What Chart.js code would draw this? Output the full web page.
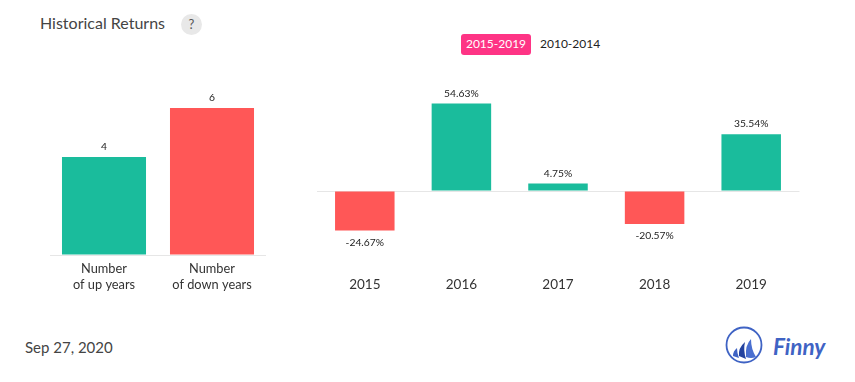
<!DOCTYPE html>
<html>
<head>
<meta charset="utf-8">
<title>Historical Returns</title>
<script src="https://cdn.jsdelivr.net/npm/chart.js@4/dist/chart.umd.min.js"></script>
<style>
html, body { margin: 0; padding: 0; background: #fff; font-family: Lato, sans-serif; overflow: hidden; }
body { width: 855px; height: 382px; position: relative; }
.abs { position: absolute; white-space: nowrap; }
#titulo { left: 40px; top: 13px; font-size: 16px; line-height: 20px; color: #444; }
#ajuda { left: 181px; top: 14px; width: 21px; height: 21px; border-radius: 50%; background: #e8e8e8; color: #555; font-size: 13px; line-height: 21px; text-align: center; }
#periodoAtivo { left: 461px; top: 34px; width: 70px; height: 21px; border-radius: 3px; background: #fe3485; color: #fff; font-size: 12px; line-height: 20px; text-align: center; }
#periodoOutro { left: 540px; top: 34px; font-size: 12px; line-height: 20px; color: #222; }
#data { left: 25px; top: 337px; font-size: 15px; line-height: 20px; color: #444; }
#marca { left: 773px; top: 331px; font-family: Lato, sans-serif; font-style: italic; font-weight: bold; font-size: 22.5px; line-height: 32px; color: #3f63c4; }
#logo { left: 725px; top: 326px; }
#wrapAnos { left: 30px; top: 60px; width: 260px; height: 240px; }
#wrapRetornos { left: 300px; top: 60px; width: 520px; height: 241px; }
</style>
</head>
<body>
<div class="abs" id="titulo">Historical Returns</div>
<div class="abs" id="ajuda">?</div>
<div class="abs" id="periodoAtivo">2015-2019</div>
<div class="abs" id="periodoOutro">2010-2014</div>
<div class="abs" id="wrapAnos"><canvas id="chartAnos" width="260" height="240"></canvas></div>
<div class="abs" id="wrapRetornos"><canvas id="chartRetornos" width="520" height="241"></canvas></div>
<div class="abs" id="data">Sep 27, 2020</div>
<svg class="abs" id="logo" width="38" height="38" viewBox="0 0 38 38">
  <circle cx="19" cy="19" r="17.5" fill="none" stroke="#3f63c4" stroke-width="1.8"/>
  <path d="M8 30 Q8 25 12 22 Q12 27 14 32 Z" fill="#3f63c4"/>
  <path d="M14 30 Q13 22 20 16 Q18 24 21 33 Z" fill="#23429f"/>
  <path d="M21 31 Q20 19 26 13 Q26 23 31 31 Q26 33 21 31 Z" fill="#4a6fd0"/>
</svg>
<div class="abs" id="marca">Finny</div>

<script>
var categoriasAnos = [["Number", "of up years"], ["Number", "of down years"]];
var valoresAnos = [4, 6];
var coresAnos = ["#1abc9c", "#ff5757"];

var categoriasRetornos = ["2015", "2016", "2017", "2018", "2019"];
var valoresRetornos = [-24.67, 54.63, 4.75, -20.57, 35.54];

var verde = "#1abc9c";
var vermelho = "#ff5757";
var corEixo = "#e6e6e6";

// escreve o valor acima (ou abaixo) de cada barra
function pluginRotulos(sufixo) {
    return {
        id: "rotulos",
        afterDatasetsDraw: function (chart) {
            var ctx = chart.ctx;
            var dados = chart.data.datasets[0].data;
            var barras = chart.getDatasetMeta(0).data;
            ctx.save();
            ctx.font = "10.3px Lato";
            ctx.fillStyle = "#222";
            ctx.textAlign = "center";
            for (let i = 0; i < barras.length; i++) {
                if (dados[i] < 0) {
                    ctx.textBaseline = "top";
                    ctx.fillText(dados[i] + sufixo, barras[i].x, barras[i].y + 7);
                } else {
                    ctx.textBaseline = "bottom";
                    ctx.fillText(dados[i] + sufixo, barras[i].x, barras[i].y - 5);
                }
            }
            ctx.restore();
        }
    };
}

function plotarGrafico(id, labels, valores, cores, opcoes) {
    var ctx = document.getElementById(id);

    return new Chart(ctx, {
        type: "bar",
        data: {
            labels: labels,
            datasets: [{
                data: valores,
                backgroundColor: cores,
                categoryPercentage: 1,
                barPercentage: opcoes.larguraBarra
            }]
        },
        options: {
            responsive: false,
            animation: false,
            layout: { padding: opcoes.padding },
            plugins: { legend: { display: false }, tooltip: { enabled: false } },
            scales: {
                x: {
                    grid: { display: false },
                    border: { display: false },
                    afterFit: function (escala) { escala.height = opcoes.alturaEixo; },
                    ticks: {
                        color: "#333",
                        padding: opcoes.paddingTicks,
                        maxRotation: 0,
                        autoSkip: false,
                        font: { family: "Lato", size: opcoes.fonteTicks, lineHeight: 1.22 }
                    }
                },
                y: {
                    min: opcoes.min,
                    max: opcoes.max,
                    afterFit: function (escala) { escala.width = 0; },
                    border: { display: false },
                    ticks: { display: false, stepSize: opcoes.passo },
                    grid: {
                        drawTicks: false,
                        color: function (c) { return c.tick.value === 0 ? corEixo : "transparent"; }
                    }
                }
            }
        },
        plugins: [pluginRotulos(opcoes.sufixo)]
    });
}

plotarGrafico("chartAnos", categoriasAnos, valoresAnos, coresAnos, {
    larguraBarra: 0.778,
    padding: { left: 20, right: 24, top: 23.5, bottom: 0 },
    alturaEixo: 45,
    paddingTicks: -2,
    fonteTicks: 12.8,
    min: 0,
    max: 7,
    passo: 1,
    sufixo: ""
});

var coresRetornos = valoresRetornos.map(function (v) { return v < 0 ? vermelho : verde; });

plotarGrafico("chartRetornos", categoriasRetornos, valoresRetornos, coresRetornos, {
    larguraBarra: 0.616,
    padding: { left: 16.5, right: 20.5, top: 19, bottom: 0 },
    alturaEixo: 30,
    paddingTicks: -3,
    fonteTicks: 13.5,
    min: -50,
    max: 70,
    passo: 10,
    sufixo: "%"
});
</script>
</body>
</html>
